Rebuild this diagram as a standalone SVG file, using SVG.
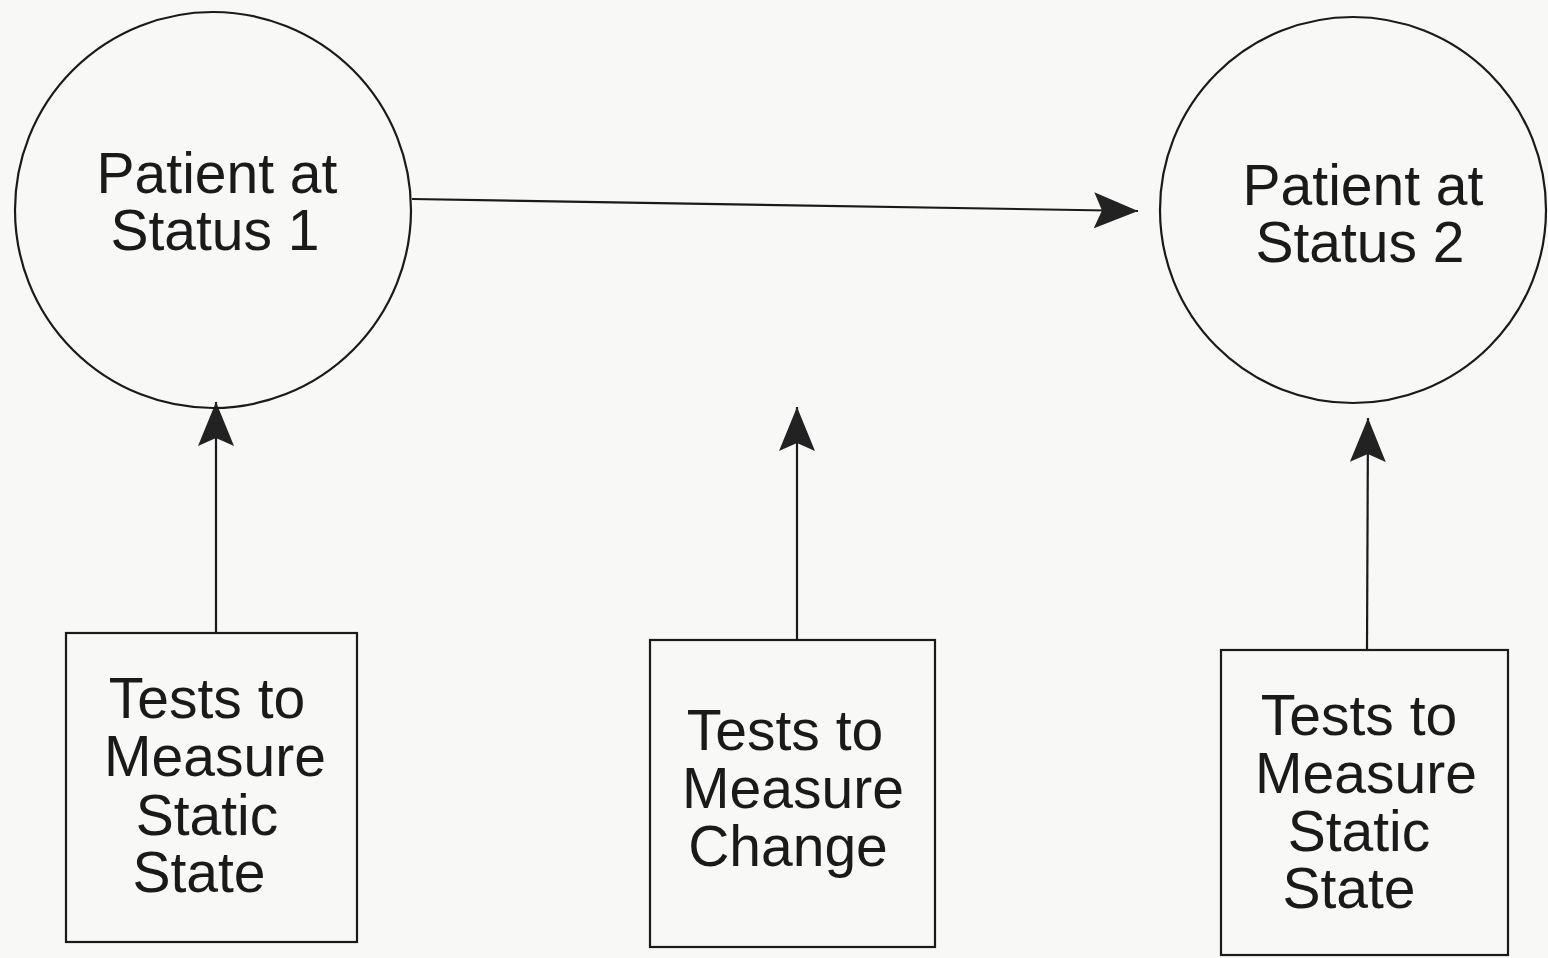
<svg xmlns="http://www.w3.org/2000/svg" width="1548" height="958" viewBox="0 0 1548 958">
<style>
.node{fill:none;stroke:#1a1a1a;stroke-width:2.2}
.lbl{font-family:"Liberation Sans",Arial,sans-serif;font-size:57px;fill:#1a1a1a;text-anchor:middle}
.conn{stroke:#1a1a1a;stroke-width:2.2;fill:none}
</style>
<defs>
<marker id="ah" viewBox="0 0 44 36" refX="44" refY="18" markerWidth="44" markerHeight="36" markerUnits="userSpaceOnUse" orient="auto">
<path d="M0,0 L44,18 L0,36 L8,18 Z" fill="#222"/>
</marker>
</defs>
<rect width="1548" height="958" fill="#f8f8f6"/>
<g id="connectors">
<path class="conn" d="M412,199 L1138,211" marker-end="url(#ah)"/>
<path class="conn" d="M216,633 L216,402" marker-end="url(#ah)"/>
<path class="conn" d="M797,640 L797,407" marker-end="url(#ah)"/>
<path class="conn" d="M1367,650 L1368,418" marker-end="url(#ah)"/>
</g>
<g id="status1">
<circle class="node" cx="213" cy="210" r="198"/>
<text class="lbl" x="217" y="193">Patient at</text>
<text class="lbl" x="215" y="250">Status 1</text>
</g>
<g id="status2">
<circle class="node" cx="1353" cy="210" r="193"/>
<text class="lbl" x="1363" y="205">Patient at</text>
<text class="lbl" x="1360" y="262">Status 2</text>
</g>
<g id="tests-static-1">
<rect class="node" x="66" y="633" width="291" height="309"/>
<text class="lbl" x="207" y="718">Tests to</text>
<text class="lbl" x="215" y="776">Measure</text>
<text class="lbl" x="207" y="835">Static</text>
<text class="lbl" x="199" y="892">State</text>
</g>
<g id="tests-change">
<rect class="node" x="650" y="640" width="285" height="307"/>
<text class="lbl" x="785" y="750">Tests to</text>
<text class="lbl" x="793" y="808">Measure</text>
<text class="lbl" x="788" y="866">Change</text>
</g>
<g id="tests-static-2">
<rect class="node" x="1221" y="650" width="287" height="305"/>
<text class="lbl" x="1359" y="735">Tests to</text>
<text class="lbl" x="1366" y="793">Measure</text>
<text class="lbl" x="1359" y="851">Static</text>
<text class="lbl" x="1349" y="908">State</text>
</g>
</svg>
